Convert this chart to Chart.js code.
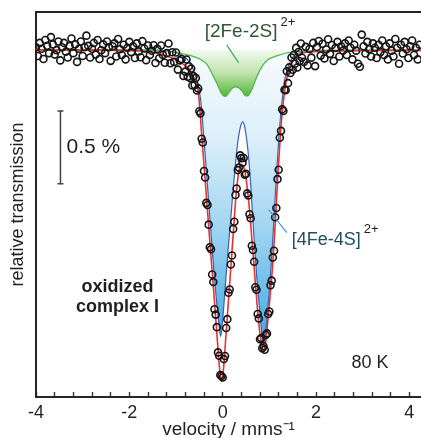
<!DOCTYPE html>
<html>
<head>
<meta charset="utf-8">
<script src="https://cdn.jsdelivr.net/npm/chart.js@4.4.1/dist/chart.umd.min.js"></script>
<style>
  html, body { margin: 0; padding: 0; background: #fff; }
  canvas { display: block; }
</style>
</head>
<body>
<canvas id="myChart" width="421" height="438"></canvas>
<script>
// measured spectrum: velocity (mm/s) and relative transmission (%)
var dataVelocity = [
  -4.00,-3.96,-3.92,-3.88,-3.84,-3.80,-3.76,-3.72,-3.68,-3.64,
  -3.60,-3.56,-3.52,-3.48,-3.44,-3.40,-3.36,-3.32,-3.28,-3.24,
  -3.20,-3.16,-3.12,-3.08,-3.04,-3.00,-2.96,-2.92,-2.88,-2.84,
  -2.80,-2.76,-2.72,-2.68,-2.64,-2.60,-2.56,-2.52,-2.48,-2.44,
  -2.40,-2.36,-2.32,-2.28,-2.24,-2.20,-2.16,-2.12,-2.08,-2.04,
  -2.00,-1.96,-1.92,-1.88,-1.84,-1.80,-1.76,-1.72,-1.68,-1.64,
  -1.60,-1.56,-1.52,-1.48,-1.44,-1.40,-1.36,-1.32,-1.28,-1.24,
  -1.20,-1.16,-1.12,-1.08,-1.04,-1.00,-0.96,-0.92,-0.88,-0.84,
  -0.800,-0.775,-0.750,-0.725,-0.700,-0.675,-0.650,-0.625,-0.600,-0.575,
  -0.550,-0.525,-0.500,-0.475,-0.450,-0.425,-0.400,-0.375,-0.350,-0.325,
  -0.300,-0.275,-0.250,-0.225,-0.200,-0.175,-0.150,-0.125,-0.100,-0.075,
  -0.050,-0.025,0.000,0.025,0.050,0.075,0.100,0.125,0.150,0.175,
  0.200,0.225,0.250,0.275,0.300,0.325,0.350,0.375,0.400,0.425,
  0.450,0.475,0.500,0.525,0.550,0.575,0.600,0.625,0.650,0.675,
  0.700,0.725,0.750,0.775,0.800,0.825,0.850,0.875,0.900,0.925,
  0.950,0.975,1.000,1.025,1.050,1.075,1.100,1.125,1.150,1.175,
  1.200,1.225,1.250,1.275,1.300,1.325,1.350,1.375,1.400,1.425,
  1.450,1.475,1.500,1.525,1.550,1.575,1.600,1.625,1.650,1.675,
  1.700,
  1.74,1.78,1.82,1.86,1.90,1.94,1.98,2.02,2.06,2.10,
  2.14,2.18,2.22,2.26,2.30,2.34,2.38,2.42,2.46,2.50,
  2.54,2.58,2.62,2.66,2.70,2.74,2.78,2.82,2.86,2.90,
  2.94,2.98,3.02,3.06,3.10,3.14,3.18,3.22,3.26,3.30,
  3.34,3.38,3.42,3.46,3.50,3.54,3.58,3.62,3.66,3.70,
  3.74,3.78,3.82,3.86,3.90,3.94,3.98,4.02,4.06,4.10,
  4.14,4.18,4.22
];
var dataTransmission = [
  100.018,99.958,100.048,100.008,99.938,100.068,100.028,99.978,100.088,100.038,
  99.968,99.998,100.058,99.928,100.018,100.048,99.988,99.948,100.028,100.078,
  99.978,100.038,99.918,100.008,100.058,99.958,100.018,100.098,100.028,99.948,
  100.008,100.048,99.968,100.068,99.938,99.998,100.038,99.978,100.058,100.018,
  99.925,100.025,100.045,99.955,100.075,100.005,99.965,100.035,99.935,100.015,
  100.055,99.985,100.025,99.945,100.045,99.990,99.950,100.060,100.010,99.930,
  100.030,99.966,99.994,100.032,99.910,100.007,99.943,100.030,99.966,99.912,
  99.978,100.044,99.909,99.984,99.918,99.982,99.865,99.928,99.938,99.822,
  99.851,99.934,99.816,99.888,99.808,99.872,99.756,99.820,99.759,99.808,
  99.722,99.736,99.579,99.565,99.391,99.365,99.170,99.125,98.951,98.937,
  98.802,98.647,98.633,98.460,98.408,98.222,98.185,98.099,97.926,97.903,
  97.771,97.764,97.754,97.880,97.901,98.093,98.154,98.335,98.357,98.529,
  98.590,98.772,98.822,99.005,99.050,99.176,99.193,99.277,99.258,99.227,
  99.259,99.144,99.151,99.016,99.002,98.873,98.846,98.657,98.628,98.547,
  98.373,98.355,98.189,98.159,98.016,98.024,97.955,97.968,97.944,98.046,
  98.056,98.189,98.206,98.386,98.418,98.576,98.623,98.853,98.916,99.114,
  99.178,99.398,99.445,99.593,99.582,99.727,99.723,99.854,99.772,99.880,
  99.842,99.948,99.864,99.965,99.905,100.014,99.880,99.986,99.922,100.044,
  99.946,
  99.918,100.021,99.894,100.006,99.947,100.048,99.889,100.020,100.061,99.961,
  100.042,99.942,100.003,100.073,99.973,100.034,99.924,100.014,100.055,99.955,
  100.025,99.995,100.045,99.965,100.065,100.015,99.935,100.035,99.995,99.905,
  99.885,100.105,100.025,99.975,100.055,100.005,99.955,100.045,100.015,99.945,
  100.035,99.985,100.065,99.965,100.025,99.935,100.045,99.995,99.955,100.075,
  100.015,99.905,100.035,99.975,100.055,100.005,99.945,100.025,100.065,99.965,
  100.015,99.935,100.035
];

// total fit (red)
var totalVelocity = [
  -4.0,-3.0,-2.0,-1.567,-1.352,-1.137,-0.923,-0.794,-0.708,-0.622,-0.558,-0.515,
  -0.451,-0.386,-0.322,-0.258,-0.193,-0.129,-0.064,-0.021,0.021,0.064,0.107,0.150,
  0.193,0.236,0.279,0.322,0.365,0.408,0.451,0.494,0.536,0.579,0.622,0.665,0.708,
  0.751,0.794,0.837,0.880,0.923,0.966,1.009,1.052,1.094,1.137,1.180,1.223,1.266,
  1.309,1.352,1.395,1.438,1.502,1.567,1.652,1.867,2.296,4.25
];
var totalFit = [
  100.000,99.999,99.995,99.986,99.973,99.952,99.918,99.890,99.863,99.808,99.753,99.692,
  99.425,99.151,98.884,98.616,98.349,98.075,97.808,97.726,97.822,98.014,98.205,98.397,
  98.589,98.781,98.973,99.110,99.192,99.212,99.199,99.137,99.027,98.890,98.719,98.548,98.370,
  98.205,98.068,97.979,97.932,98.000,98.137,98.288,98.445,98.630,98.870,99.123,99.349,99.534,
  99.671,99.767,99.836,99.884,99.925,99.952,99.973,99.986,99.993,99.996
];

// [4Fe-4S]2+ component (blue)
var cubaneVelocity = [
  -4.0,-1.567,-1.137,-0.880,-0.751,-0.665,-0.601,-0.536,-0.472,-0.408,-0.343,-0.279,
  -0.215,-0.150,-0.086,-0.043,0.000,0.043,0.086,0.129,0.172,0.215,0.258,0.300,0.343,
  0.386,0.429,0.472,0.515,0.558,0.601,0.644,0.687,0.730,0.773,0.815,0.858,0.880,0.901,
  0.944,0.987,1.030,1.073,1.116,1.159,1.202,1.245,1.288,1.330,1.395,1.481,1.588,1.760,
  2.082,4.25
];
var cubaneFit = [
  100.000,99.998,99.990,99.966,99.932,99.890,99.842,99.767,99.658,99.418,99.144,98.870,
  98.596,98.342,98.137,98.034,98.151,98.322,98.507,98.678,98.836,99.007,99.164,99.301,99.411,
  99.479,99.507,99.473,99.384,99.260,99.075,98.849,98.644,98.445,98.288,98.137,98.007,97.986,98.014,
  98.137,98.301,98.479,98.699,98.938,99.178,99.384,99.562,99.692,99.795,99.877,99.938,99.973,99.986,
  99.997,99.999
];

// [2Fe-2S]2+ component (green)
var ferredoxinVelocity = [
  -4.0,-1.567,-1.202,-0.923,-0.665,-0.494,-0.343,-0.215,-0.107,-0.043,0.021,0.064,
  0.129,0.215,0.279,0.343,0.429,0.494,0.536,0.601,0.665,0.730,0.837,0.966,1.159,
  1.373,1.652,2.082,4.25
];
var ferredoxinFit = [
  100.000,99.998,99.993,99.979,99.959,99.938,99.904,99.829,99.760,99.712,99.685,99.682,
  99.705,99.740,99.747,99.740,99.712,99.685,99.685,99.712,99.760,99.815,99.884,99.932,99.959,
  99.979,99.990,99.996,99.999
];

var xTickValues = [-4,-3.6,-3.2,-2.8,-2.4,-2,-1.6,-1.2,-0.8,-0.4,0,0.4,0.8,1.2,1.6,2,2.4,2.8,3.2,3.6,4];
var xTickLabels = ["-4","","","","","-2","","","","","0","","","","","2","","","","","4"];

function toPoints(xs, ys) {
  return xs.map(function (v, i) { return { x: v, y: ys[i] }; });
}

function verticalFill(stops, low) {
  return function (context) {
    var chart = context.chart;
    if (!chart.chartArea) return "rgba(0,0,0,0)";
    var y = chart.scales.y;
    var g = chart.ctx.createLinearGradient(0, y.getPixelForValue(100), 0, y.getPixelForValue(low));
    stops.forEach(function (s) { g.addColorStop(s[0], s[1]); });
    return g;
  };
}

var textColor = "#231f20";
var axisColor = "#2b2522";
var fontName = "'Liberation Sans', Arial, sans-serif";

var labels = [
  { text: "[2Fe-2S]", sup: "2+", x: -0.386, y: 100.123, color: "#2d5731", size: 19, align: "left" },
  { text: "[4Fe-4S]", sup: "2+", x: 1.481, y: 98.699, color: "#1f4d63", size: 18, align: "left" },
  { text: "oxidized", x: -2.253, y: 98.377, color: textColor, size: 18, bold: true, align: "center" },
  { text: "complex I", x: -2.253, y: 98.240, color: textColor, size: 18, bold: true, align: "center" },
  { text: "80 K", x: 3.155, y: 97.856, color: textColor, size: 18, align: "center" }
];
var leaders = [
  { x0: 0.086, y0: 100.034, x1: 0.343, y1: 99.911, color: "#3aa860" },
  { x0: 0.987, y0: 98.904, x1: 1.373, y1: 98.747, color: "#2f9fd8" }
];
var scaleBar = { x: -3.476, top: 99.582, size: 0.5, text: "0.5 %" };

var annotate = {
  id: "annotate",
  afterDatasetsDraw: function (chart) {
    var c = chart.ctx;
    var xs = chart.scales.x, ys = chart.scales.y;
    var area = chart.chartArea;
    c.save();

    // top frame line
    c.strokeStyle = axisColor;
    c.lineWidth = 2;
    c.beginPath();
    c.moveTo(area.left - 1, area.top);
    c.lineTo(area.right + 1, area.top);
    c.stroke();

    leaders.forEach(function (l) {
      c.strokeStyle = l.color;
      c.lineWidth = 1.2;
      c.beginPath();
      c.moveTo(xs.getPixelForValue(l.x0), ys.getPixelForValue(l.y0));
      c.lineTo(xs.getPixelForValue(l.x1), ys.getPixelForValue(l.y1));
      c.stroke();
    });

    var bx = xs.getPixelForValue(scaleBar.x);
    var b0 = ys.getPixelForValue(scaleBar.top);
    var b1 = ys.getPixelForValue(scaleBar.top - scaleBar.size);
    c.strokeStyle = "#4a403c";
    c.lineWidth = 1.5;
    c.beginPath();
    c.moveTo(bx, b0); c.lineTo(bx, b1);
    c.moveTo(bx - 3, b0); c.lineTo(bx + 3, b0);
    c.moveTo(bx - 3, b1); c.lineTo(bx + 3, b1);
    c.stroke();
    c.fillStyle = textColor;
    c.font = "21px " + fontName;
    c.textAlign = "left";
    c.textBaseline = "middle";
    c.fillText(scaleBar.text, bx + 6, (b0 + b1) / 2);

    labels.forEach(function (l) {
      var px = xs.getPixelForValue(l.x), py = ys.getPixelForValue(l.y);
      c.font = (l.bold ? "bold " : "") + l.size + "px " + fontName;
      c.fillStyle = l.color;
      c.textAlign = l.align;
      c.fillText(l.text, px, py);
      if (l.sup) {
        var w = c.measureText(l.text).width;
        c.font = "13px " + fontName;
        c.fillStyle = textColor;
        c.textAlign = "left";
        c.fillText(l.sup, px + w + 3, py - 10);
      }
    });
    c.restore();
  }
};

var ctx = document.getElementById("myChart").getContext("2d");
var myChart = new Chart(ctx, {
  type: "scatter",
  data: {
    datasets: [
      {
        label: "data",
        data: toPoints(dataVelocity, dataTransmission),
        pointRadius: 3.5,
        pointBorderWidth: 1.6,
        borderColor: "#151515",
        backgroundColor: "rgba(0,0,0,0)",
        order: 0,
      },
      {
        type: "line",
        label: "total",
        data: toPoints(totalVelocity, totalFit),
        borderColor: "#e8332b",
        borderWidth: 1.6,
        pointRadius: 0,
        fill: false,
        cubicInterpolationMode: "monotone",
        order: 1,
      },
      {
        type: "line",
        label: "[2Fe-2S]",
        data: toPoints(ferredoxinVelocity, ferredoxinFit),
        borderColor: "#4cb648",
        borderWidth: 1.2,
        pointRadius: 0,
        fill: { value: 100 },
        backgroundColor: verticalFill([[0, "#f3faf0"], [0.5, "#bfe3ad"], [1, "#58b638"]], 99.685),
        cubicInterpolationMode: "monotone",
        order: 2,
      },
      {
        type: "line",
        label: "[4Fe-4S]",
        data: toPoints(cubaneVelocity, cubaneFit),
        borderColor: "#3a62b4",
        borderWidth: 1.2,
        pointRadius: 0,
        fill: { value: 100 },
        backgroundColor: verticalFill([[0, "#f8fbfd"], [0.3, "#dceff9"], [0.6, "#a2d5f1"], [1, "#3fa9e3"]], 97.98),
        cubicInterpolationMode: "monotone",
        order: 3,
      },
    ],
  },
  options: {
    responsive: false,
    animation: false,
    devicePixelRatio: 1,
    layout: { autoPadding: false, padding: { top: 12, right: 0, bottom: 0, left: 0 } },
    scales: {
      x: {
        type: "linear",
        position: "bottom",
        min: -4,
        max: 4.25,
        afterBuildTicks: function (scale) {
          scale.ticks = xTickValues.map(function (v) { return { value: v }; });
        },
        afterFit: function (scale) {
          scale.height = 41;
          scale.paddingLeft = 0;
          scale.paddingRight = 0;
        },
        grid: {
          display: true,
          drawOnChartArea: false,
          drawTicks: true,
          tickLength: -5,
          tickWidth: 1.4,
          tickColor: "#3a3330",
        },
        border: { display: true, width: 2, color: axisColor },
        ticks: {
          autoSkip: false,
          maxRotation: 0,
          padding: 10,
          color: textColor,
          font: { family: fontName, size: 18 },
          callback: function (value, index) { return xTickLabels[index]; },
        },
        title: {
          display: true,
          text: "velocity / mms\u207B\u00B9",
          color: textColor,
          font: { family: fontName, size: 19 },
          padding: { top: 0, bottom: -3 },
        },
      },
      y: {
        type: "linear",
        position: "left",
        min: 97.62,
        max: 100.26,
        afterFit: function (scale) { scale.width = 36; },
        grid: { display: false, drawTicks: false },
        ticks: { display: false },
        border: { display: true, width: 2, color: axisColor },
        title: {
          display: true,
          text: "relative transmission",
          color: textColor,
          font: { family: fontName, size: 18 },
          padding: { top: 7, bottom: 0 },
        },
      },
    },
    plugins: {
      legend: { display: false },
      tooltip: { enabled: false },
    },
  },
  plugins: [annotate],
});
</script>
</body>
</html>
